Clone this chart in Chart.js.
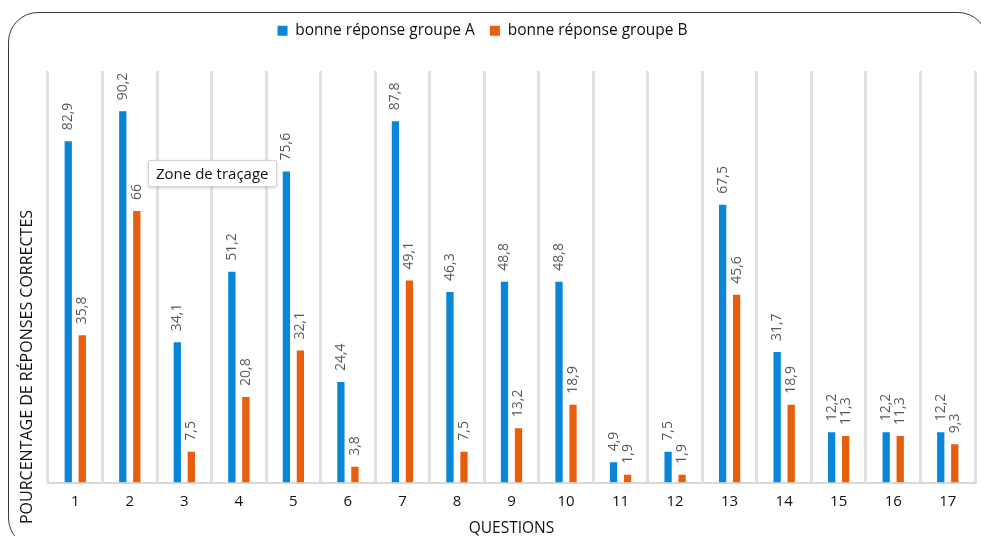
<!DOCTYPE html>
<html lang="fr">
<head>
<meta charset="utf-8">
<title>Pourcentage de réponses correctes</title>
<script src="https://cdn.jsdelivr.net/npm/chart.js@4"></script>
<style>
  html, body { margin: 0; padding: 0; background: #ffffff; }
  body { width: 981px; height: 536px; overflow: hidden; position: relative; }
  #wrap { position: absolute; left: 0; top: 0; width: 981px; height: 536px; }
  #frame {
    position: absolute; left: 8px; top: 12px; width: 980px; height: 536px;
    border: 1.5px solid #3b3b3b; border-radius: 30px; box-sizing: border-box;
    pointer-events: none;
  }
  #hint {
    position: absolute; left: 148px; top: 160px; height: 25px; padding: 0 7px;
    background: #ffffff; border: 1px solid #d4d4d4; border-radius: 2px;
    box-shadow: 0 1px 3px rgba(0,0,0,0.18);
    font: 15px "Open Sans", sans-serif; line-height: 24px; color: #111;
    white-space: nowrap;
  }
</style>
</head>
<body>
<div id="frame"></div>
<div id="wrap"><canvas id="chart"></canvas></div>
<div id="hint">Zone de traçage</div>
<script>
// Questions 1 à 17
const questions = ['1','2','3','4','5','6','7','8','9','10','11','12','13','14','15','16','17'];
// Pourcentage de bonnes réponses, groupe A
const groupeA = [82.9, 90.2, 34.1, 51.2, 75.6, 24.4, 87.8, 46.3, 48.8, 48.8, 4.9, 7.5, 67.5, 31.7, 12.2, 12.2, 12.2];
// Pourcentage de bonnes réponses, groupe B
const groupeB = [35.8, 66, 7.5, 20.8, 32.1, 3.8, 49.1, 7.5, 13.2, 18.9, 1.9, 1.9, 45.6, 18.9, 11.3, 11.3, 9.3];
const seriesNames = ['bonne réponse groupe A', 'bonne réponse groupe B'];
const yTitle = 'POURCENTAGE DE RÉPONSES CORRECTES';
const xTitle = 'QUESTIONS';

const BLUE = '#0a86d8';
const ORANGE = '#e75e0b';
const FONT = '"Open Sans", "DejaVu Sans", sans-serif';

// French decimal comma
const fmt = v => String(v).replace('.', ',');

// Rotated value labels above each bar
const valueLabels = {
  id: 'valueLabels',
  afterDatasetsDraw(chart) {
    const ctx = chart.ctx;
    ctx.save();
    ctx.font = '14px ' + FONT;
    ctx.fillStyle = '#595959';
    ctx.textAlign = 'left';
    ctx.textBaseline = 'middle';
    chart.data.datasets.forEach((ds, di) => {
      const meta = chart.getDatasetMeta(di);
      meta.data.forEach((bar, i) => {
        ctx.save();
        ctx.translate(bar.x, bar.y - 11);
        ctx.rotate(-Math.PI / 2);
        ctx.fillText(fmt(ds.data[i]), 0, 0);
        ctx.restore();
      });
    });
    ctx.restore();
  }
};

// Vertical axis title, placed left of the plot
const sideTitle = {
  id: 'sideTitle',
  afterDraw(chart) {
    const ctx = chart.ctx;
    ctx.save();
    ctx.font = '16px ' + FONT;
    ctx.fillStyle = '#111111';
    ctx.textAlign = 'center';
    ctx.textBaseline = 'middle';
    ctx.translate(27, 367);
    ctx.rotate(-Math.PI / 2);
    ctx.fillText(yTitle, 0, 0);
    ctx.restore();
  }
};

// Extra room under the legend, and legend nudged left of centre
const legendGap = {
  id: 'legendGap',
  beforeInit(chart) {
    const legend = chart.legend;
    if (!legend) return;
    const fit = legend.fit;
    legend.fit = function () {
      fit.call(this);
      this.height += 22.5;
    };
  },
  afterLayout(chart) {
    const legend = chart.legend;
    if (!legend) return;
    legend.left -= 29;
    legend.right -= 29;
  }
};

new Chart(document.getElementById('chart'), {
  type: 'bar',
  data: {
    labels: questions,
    datasets: [
      { label: seriesNames[0], data: groupeA, backgroundColor: BLUE, borderWidth: 0,
        categoryPercentage: 0.514, barPercentage: 0.52 },
      { label: seriesNames[1], data: groupeB, backgroundColor: ORANGE, borderWidth: 0,
        categoryPercentage: 0.514, barPercentage: 0.52 }
    ]
  },
  options: {
    responsive: true,
    maintainAspectRatio: false,
    animation: false,
    layout: { padding: { left: 48, right: 6, top: 8, bottom: 0 } },
    plugins: {
      legend: {
        position: 'top',
        align: 'center',
        labels: {
          boxWidth: 10, boxHeight: 10, padding: 15,
          color: '#111111',
          font: { family: FONT, size: 15.5 }
        }
      },
      tooltip: { enabled: false }
    },
    scales: {
      x: {
        offset: true,
        grid: { display: true, color: '#e1e1e1', lineWidth: 3, drawTicks: false, offset: true },
        border: { display: true, color: '#d9d9d9', width: 2 },
        ticks: { color: '#111111', padding: 10, font: { family: FONT, size: 15 } },
        title: { display: true, text: xTitle, color: '#111111',
                 font: { family: FONT, size: 15.5, lineHeight: 1 }, padding: { top: 0, bottom: 0 } }
      },
      y: {
        display: false,
        min: 0,
        max: 100
      }
    }
  },
  plugins: [legendGap, valueLabels, sideTitle]
});
</script>
</body>
</html>
